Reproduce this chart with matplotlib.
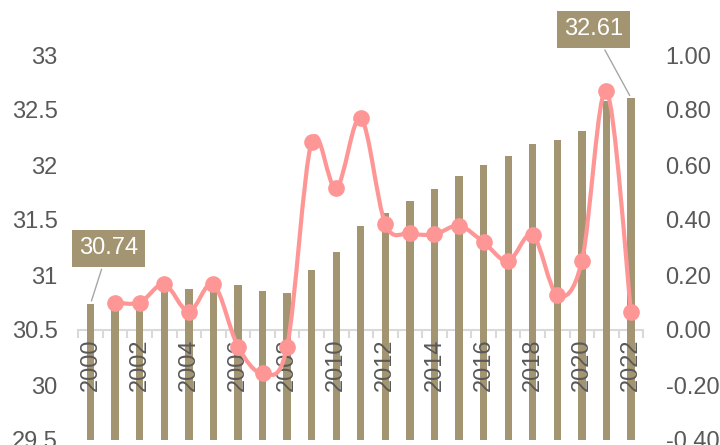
import numpy as np
import matplotlib
import matplotlib.pyplot as plt
from matplotlib.path import Path
from matplotlib.patches import PathPatch
matplotlib.use('Agg')

plt.rcParams['font.family'] = ['Liberation Sans', 'DejaVu Sans']

years = list(range(2000, 2023))
bar_values = [30.74, 30.75, 30.77, 30.88, 30.875, 30.90, 30.905, 30.855, 30.835,
              31.045, 31.205, 31.445, 31.56, 31.67, 31.78, 31.90, 32.00, 32.08,
              32.19, 32.23, 32.31, 32.58, 32.61]
# line starts in 2001
line_years = list(range(2001, 2023))
line_values = [0.10, 0.10, 0.166, 0.067, 0.166, -0.06, -0.157, -0.06, 0.685,
               0.515, 0.77, 0.385, 0.352, 0.348, 0.379, 0.319, 0.251, 0.345,
               0.127, 0.251, 0.87, 0.064]
tick_labels = [str(y) if y % 2 == 0 else '' for y in years]
left_ticks = [29.5, 30, 30.5, 31, 31.5, 32, 32.5, 33]
right_ticks = [-0.4, -0.2, 0, 0.2, 0.4, 0.6, 0.8, 1.0]

bar_col = '#A39571'
line_col = '#FF9696'
txt_col = '#595959'
fs = 17

fig = plt.figure(figsize=(7.2, 4.45), dpi=100)
ax = fig.add_axes([78.3 / 720, 5 / 445, 565 / 720, 440 / 445])
ax2 = ax.twinx()

x = np.arange(len(years))
ax.bar(x, np.array(bar_values) - 29.5, width=0.3, bottom=29.5, color=bar_col, zorder=2)

ax.set_xlim(-0.5, len(years) - 0.5)
ax.set_ylim(29.5, 33.5)
ax.set_yticks(left_ticks)
ax.set_yticklabels([f'{v:g}' for v in left_ticks])
for s in ['top', 'right', 'left']:
    ax.spines[s].set_visible(False)
ax.spines['bottom'].set_position(('data', 30.5))
ax.spines['bottom'].set_color('#D9D9D9')
ax.spines['bottom'].set_linewidth(1.5)
ax.spines['bottom'].set_zorder(1)
ax.tick_params(axis='y', length=0, labelsize=fs, labelcolor=txt_col, pad=15)

ax.set_xticks(x)
ax.set_xticklabels(tick_labels, rotation=90, fontsize=fs, color=txt_col, va='top')
ax.tick_params(axis='x', length=0, pad=6)
ax.set_xticks(np.arange(-0.5, len(years)), minor=True)
ax.tick_params(axis='x', which='minor', length=6, width=1.5, color='#D9D9D9', direction='out')
ax.xaxis.set_zorder(3)

ax2.set_ylim(-0.4, 1.2)
ax2.set_yticks(right_ticks)
ax2.set_yticklabels([f'{v:.2f}' for v in right_ticks])
for s in ['top', 'right', 'left', 'bottom']:
    ax2.spines[s].set_visible(False)
ax2.tick_params(axis='y', length=0, labelsize=fs, labelcolor=txt_col, pad=16)

# smooth line (Catmull-Rom as Bezier), like a spreadsheet "smoothed line"
lx = np.array(line_years, dtype=float) - years[0]
ly = np.array(line_values)
pts = np.column_stack([lx, ly])
verts = [pts[0]]
codes = [Path.MOVETO]
n = len(pts)
for i in range(n - 1):
    p0 = pts[i - 1] if i > 0 else pts[i]
    p1 = pts[i]
    p2 = pts[i + 1]
    p3 = pts[i + 2] if i + 2 < n else pts[i + 1]
    c1 = p1 + (p2 - p0) / 6
    c2 = p2 - (p3 - p1) / 6
    verts += [c1, c2, p2]
    codes += [Path.CURVE4] * 3
ax2.add_patch(PathPatch(Path(verts, codes), fill=False, edgecolor=line_col,
                        linewidth=3, capstyle='round', joinstyle='round', zorder=4))
ax2.plot(lx, ly, 'o', color=line_col, markersize=11, zorder=5)

box = dict(boxstyle='square,pad=0.3', fc=bar_col, ec='none')
ax.annotate('30.74', xy=(0, bar_values[0]), xytext=(12.7, 39.7), textcoords='offset points',
            ha='center', va='center', fontsize=fs, color='white', bbox=box,
            arrowprops=dict(arrowstyle='-', color='#A6A6A6', lw=1), zorder=6)
ax.annotate('32.61', xy=(len(years) - 1, bar_values[-1]), xytext=(-26.9, 49.3),
            textcoords='offset points', ha='center', va='center', fontsize=fs,
            color='white', bbox=box,
            arrowprops=dict(arrowstyle='-', color='#A6A6A6', lw=1), zorder=6)

fig.savefig('out.png', dpi=100)
